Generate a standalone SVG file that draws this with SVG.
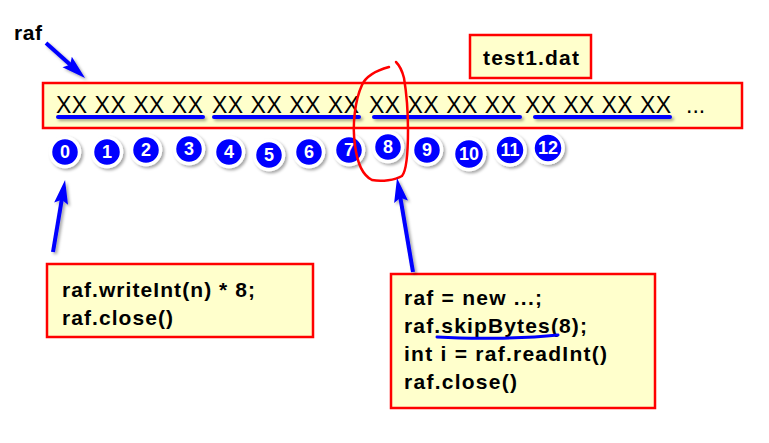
<svg xmlns="http://www.w3.org/2000/svg" width="769" height="443" viewBox="0 0 769 443">
<defs>
<style>
.box{fill:#FFFFCC;stroke:#FF0000;stroke-width:2.5}
.code{font-family:"Liberation Sans",Arial,sans-serif;font-weight:bold;font-size:21px;fill:#000}
.xx{font-family:"Liberation Sans",Arial,sans-serif;font-size:23px;fill:#000}
.ul{stroke:#0000FF;stroke-width:4;stroke-linecap:round;fill:none}
.circ{fill:#0000FF;stroke:#FFFFFF;stroke-width:3.5}
.num{font-family:"Liberation Sans",Arial,sans-serif;font-weight:bold;font-size:18px;fill:#FFFFFF;text-anchor:middle}
.arr{stroke:#0000FF;stroke-width:4;fill:none;marker-end:url(#ah)}
</style>
<marker id="ah" markerUnits="userSpaceOnUse" markerWidth="26" markerHeight="16" refX="14" refY="7" orient="auto">
<path d="M0,0 L24,7 L0,14 L4,7 z" fill="#0000FF"/>
</marker>
<filter id="sh" filterUnits="userSpaceOnUse" x="0" y="0" width="769" height="443">
<feDropShadow dx="2" dy="2" stdDeviation="1.5" flood-color="#000" flood-opacity="0.35"/>
</filter>
</defs>
<rect width="769" height="443" fill="#FFFFFF"/>

<g id="raf-label">
<text class="code" x="14" y="40" font-size="21" textLength="28">raf</text>
</g>

<g id="test1-box">
<rect class="box" x="470" y="35" width="121" height="43"/>
<text class="code" x="483" y="65" font-size="22" textLength="96">test1.dat</text>
</g>

<g id="file-box">
<rect class="box" x="43" y="83" width="699" height="45"/>
<text class="xx" x="56" y="113" textLength="147">XX XX XX XX</text>
<text class="xx" x="212" y="113" textLength="147">XX XX XX XX</text>
<text class="xx" x="369" y="113" textLength="147">XX XX XX XX</text>
<text class="xx" x="525" y="113" textLength="146">XX XX XX XX</text>
<text class="xx" x="686" y="113">...</text>
<g filter="url(#sh)">
<path class="ul" d="M58,117 L203,117"/>
<path class="ul" d="M214,117 L359,117"/>
<path class="ul" d="M374,117 L520,117"/>
<path class="ul" d="M535,117 L670,117"/>
</g>
</g>

<g id="offsets">
<g filter="url(#sh)">
<circle class="circ" cx="65" cy="152" r="14.5"/>
<circle class="circ" cx="107" cy="152" r="14.5"/>
<circle class="circ" cx="146" cy="150" r="14.5"/>
<circle class="circ" cx="189" cy="149" r="14.5"/>
<circle class="circ" cx="229" cy="152" r="14.5"/>
<circle class="circ" cx="269" cy="155" r="14.5"/>
<circle class="circ" cx="309" cy="152" r="14.5"/>
<circle class="circ" cx="349" cy="150" r="14.5"/>
<circle class="circ" cx="388" cy="147" r="14.5"/>
<circle class="circ" cx="427" cy="150" r="14.5"/>
<circle class="circ" cx="469" cy="154" r="15.5"/>
<circle class="circ" cx="510" cy="150" r="15"/>
<circle class="circ" cx="548" cy="148" r="15"/>
</g>
<text class="num" x="65" y="158">0</text>
<text class="num" x="107" y="158">1</text>
<text class="num" x="146" y="156">2</text>
<text class="num" x="189" y="155">3</text>
<text class="num" x="229" y="158">4</text>
<text class="num" x="269" y="161">5</text>
<text class="num" x="309" y="158">6</text>
<text class="num" x="349" y="156">7</text>
<text class="num" x="388" y="153">8</text>
<text class="num" x="427" y="156">9</text>
<text class="num" x="469" y="160" font-size="17">10</text>
<text class="num" x="510" y="156" font-size="17">11</text>
<text class="num" x="548" y="154" font-size="17">12</text>
</g>

<g id="highlight">
<path d="M389,67 C378,70 366,76 362,85 C355,100 352,125 355,145 C357,162 362,175 372,180 C382,182 395,180 402,176 C407,170 408,150 408,130 C408,110 406,90 404,78 C402,70 399,65 396,62" fill="none" stroke="#FF0000" stroke-width="2.5" stroke-linecap="round"/>
</g>

<g id="write-box">
<rect class="box" x="47" y="264" width="266" height="73"/>
<text class="code" x="62" y="297" textLength="193">raf.writeInt(n) * 8;</text>
<text class="code" x="62" y="325" textLength="111">raf.close()</text>
</g>

<g id="read-box">
<rect class="box" x="391" y="274" width="264" height="134"/>
<text class="code" x="404" y="305" textLength="138">raf = new ...;</text>
<text class="code" x="404" y="333" textLength="183">raf.skipBytes(8);</text>
<text class="code" x="404" y="361" textLength="203">int i = raf.readInt()</text>
<text class="code" x="404" y="389" textLength="113">raf.close()</text>
<path d="M437,337 C470,339 520,339 558,335" fill="none" stroke="#0000FF" stroke-width="3" stroke-linecap="round"/>
</g>

<g id="connectors" filter="url(#sh)">
<path class="arr" d="M46,43 L77.6,71.3"/>
<path class="arr" d="M53,252 L63.4,189.9"/>
<path class="arr" d="M413,272 L398.7,187.9"/>
</g>
</svg>
